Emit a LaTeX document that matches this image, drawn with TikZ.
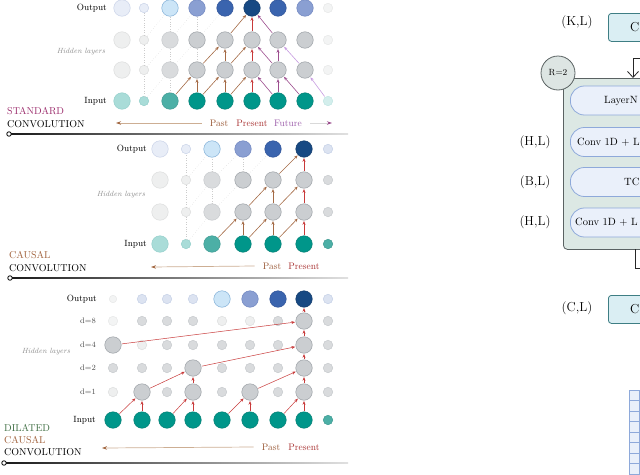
\documentclass[tikz,border=0pt]{standalone}
\usetikzlibrary{arrows.meta}
\definecolor{oVL}{HTML}{E8EDF7}\definecolor{oVLb}{HTML}{C9D3E8}
\definecolor{oL}{HTML}{CCE5F7}\definecolor{oLb}{HTML}{7FAED6}
\definecolor{oM}{HTML}{8A9FD2}\definecolor{oMb}{HTML}{6C83BF}
\definecolor{oB}{HTML}{3A64AE}\definecolor{oBb}{HTML}{2C5096}
\definecolor{oD}{HTML}{174983}\definecolor{oDb}{HTML}{0F3868}
\definecolor{oS}{HTML}{DCE3F1}\definecolor{oSb}{HTML}{C5D0E6}
\definecolor{gF}{HTML}{F3F4F4}\definecolor{gFb}{HTML}{E7E8E8}
\definecolor{gVL}{HTML}{EEEFEF}\definecolor{gVLb}{HTML}{DCDDDD}
\definecolor{gL}{HTML}{D9DBDD}\definecolor{gLb}{HTML}{C6C9CC}
\definecolor{gM}{HTML}{CBCED1}\definecolor{gMb}{HTML}{9A9FA4}
\definecolor{tL}{HTML}{A9DCD8}\definecolor{tLb}{HTML}{92CFCA}
\definecolor{tM}{HTML}{4CAFA6}\definecolor{tMb}{HTML}{3B9990}
\definecolor{tD}{HTML}{00968A}\definecolor{tDb}{HTML}{007D72}
\definecolor{tVL}{HTML}{D3EEEC}\definecolor{tVLb}{HTML}{C0E5E2}
\definecolor{pastc}{HTML}{A46A45}
\definecolor{presc}{HTML}{C83A3A}
\definecolor{futc}{HTML}{9C4D8E}
\definecolor{futl}{HTML}{C79BE0}
\definecolor{pastt}{HTML}{9A5A38}
\definecolor{prest}{HTML}{A83232}
\definecolor{futt}{HTML}{9A5AA8}
\definecolor{leftl}{HTML}{CDAE93}
\definecolor{stdc}{HTML}{9B2B6B}
\definecolor{causc}{HTML}{A0603A}
\definecolor{dilc}{HTML}{3F6E43}
\definecolor{boxf}{HTML}{DAEEF3}\definecolor{boxd}{HTML}{3E7E84}
\definecolor{contf}{HTML}{DCE8E4}\definecolor{contd}{HTML}{5A6262}
\definecolor{pillf}{HTML}{EAF0FA}\definecolor{pilld}{HTML}{8EA9DA}
\definecolor{rf}{HTML}{DDE5E3}
\begin{document}
\begin{tikzpicture}[x=1pt,y=-1pt,
  nd/.style={circle,inner sep=0pt,line width=0.5pt},
  bg/.style={nd,minimum size=16.5pt},
  sm/.style={nd,minimum size=9.5pt},
  xs/.style={nd,minimum size=7.5pt},
  cOVL/.style={fill=oVL,draw=oVLb},
  cOL/.style={fill=oL,draw=oLb},
  cOM/.style={fill=oM,draw=oMb},
  cOB/.style={fill=oB,draw=oBb},
  cOD/.style={fill=oD,draw=oDb},
  cOS/.style={fill=oS,draw=oSb},
  cGF/.style={fill=gF,draw=gFb},
  cGVL/.style={fill=gVL,draw=gVLb},
  cGL/.style={fill=gL,draw=gLb},
  cGM/.style={fill=gM,draw=gMb},
  cTL/.style={fill=tL,draw=tLb},
  cTM/.style={fill=tM,draw=tMb},
  cTD/.style={fill=tD,draw=tDb},
  cTVL/.style={fill=tVL,draw=tVLb},
  ar/.style={-{Stealth[length=3.6pt,width=3pt]},line width=0.6pt,shorten >=0.6pt,shorten <=0.6pt},
  past/.style={ar,draw=pastc,color=pastc},
  pres/.style={ar,draw=presc,color=presc},
  fut/.style={ar,draw=futc,color=futc},
  futlt/.style={ar,draw=futl,color=futl},
  dil/.style={ar,draw=presc,color=presc,line width=0.5pt},
  dots/.style={dotted,draw=gray!40,line width=0.4pt},
  lbl/.style={font=\fontsize{9}{10}\selectfont,inner sep=0pt},
  dlbl/.style={font=\fontsize{8}{9}\selectfont,inner sep=0pt,text=black!70},
  hid/.style={font=\fontsize{7.5}{8}\itshape,inner sep=0pt,text=black!45},
  ttl/.style={font=\fontsize{10}{11}\selectfont,inner sep=0pt,anchor=west},
  tim/.style={font=\fontsize{9.5}{10}\selectfont,inner sep=0pt},
  larr/.style={draw=leftl,line width=0.7pt,-{Stealth[length=5pt,width=3.5pt,color=pastc]}},
  rarr/.style={draw=gray!30,line width=0.7pt,-{Stealth[length=5pt,width=3.5pt,color=futc]}},
  rlbl/.style={font=\fontsize{13}{14}\selectfont,inner sep=0pt},
  ptxt/.style={font=\fontsize{10.5}{12}\selectfont,inner sep=0pt,anchor=west},
  kbox/.style={draw=boxd,fill=boxf,line width=0.8pt,rounded corners=3pt,minimum width=90pt,minimum height=28pt,anchor=north west,inner sep=0pt},
  cont/.style={draw=contd,fill=contf,line width=0.8pt,rounded corners=4pt,minimum width=150pt,minimum height=171pt,anchor=north west,inner sep=0pt},
  pill/.style={draw=pilld,fill=pillf,line width=0.8pt,rounded corners=14pt,minimum width=150pt,minimum height=29pt,anchor=west,inner sep=0pt},
  rcirc/.style={circle,draw=contd,fill=rf,line width=0.8pt,minimum size=34pt,inner sep=0pt,font=\fontsize{9}{10}\selectfont},
  wire/.style={draw=black!85,line width=0.8pt},
  sq/.style={draw=pilld,fill=pillf,line width=0.5pt}
]
\useasboundingbox (0,0) rectangle (640,474);
\clip (0,0) rectangle (640,474);

% ================= Panel 1: standard =================
\foreach \c/\x/\s/\k in {1/122/bg/cOVL,2/144/sm/cOVL,3/170/bg/cOL,4/197/bg/cOM,5/225/bg/cOB,6/252/bg/cOD,7/278/bg/cOB,8/305/bg/cOM,9/328/sm/cGF}
  \node[\s,\k] (A0-\c) at (\x,8) {};
\foreach \r/\y in {1/40,2/70}
  \foreach \c/\x/\s/\k in {1/122/bg/cGVL,2/144/sm/cGVL,3/170/bg/cGL,4/197/bg/cGM,5/225/bg/cGM,6/252/bg/cGM,7/278/bg/cGM,8/305/bg/cGM,9/328/sm/cGF}
    \node[\s,\k] (A\r-\c) at (\x,\y) {};
\foreach \c/\x/\s/\k in {1/122/bg/cTL,2/144/sm/cTL,3/170/bg/cTM,4/197/bg/cTD,5/225/bg/cTD,6/252/bg/cTD,7/278/bg/cTD,8/305/bg/cTD,9/328/sm/cTVL}
  \node[\s,\k] (A3-\c) at (\x,101) {};

\foreach \a/\b in {A3-2/A2-2,A2-2/A1-2,A1-2/A0-2,A3-3/A2-3,A2-3/A1-3,A1-3/A0-3,A2-4/A1-4,A1-4/A0-4,
  A3-2/A2-3,A2-2/A1-3,A1-2/A0-3,A2-3/A1-4,A1-3/A0-4,A1-4/A0-5}
  \draw[dots] (\a) -- (\b);

\foreach \a/\b/\st in {A1-5/A0-6/past,A1-6/A0-6/pres,A1-7/A0-6/fut,
  A2-4/A1-5/past,A2-5/A1-5/past,A2-5/A1-6/past,A2-6/A1-6/pres,A2-7/A1-6/fut,A2-7/A1-7/fut,A2-8/A1-7/futlt,
  A3-3/A2-4/past,A3-4/A2-4/past,A3-4/A2-5/past,A3-5/A2-5/past,A3-5/A2-6/past,A3-6/A2-6/pres,A3-7/A2-6/fut,
  A3-7/A2-7/fut,A3-8/A2-7/fut,A3-9/A2-8/futlt}
  \draw[\st] (\a) -- (\b);

\node[lbl,anchor=east] (Aout) at (107,8) {Output};
\node[hid] (Ahid) at (81,52) {Hidden layers};
\node[lbl,anchor=east] (Ain) at (107,101) {Input};
\node[ttl,text=stdc] (Astd) at (7,111) {STANDARD};
\node[ttl] (Aconv) at (7,124) {CONVOLUTION};
\node[tim,text=pastt] (Apast) at (219,123) {Past};
\node[tim,text=prest] (Apres) at (252,123) {Present};
\node[tim,text=futt] (Afut) at (288,123) {Future};
\coordinate (Aleft) at (116,123);
\coordinate (Aright) at (332,123);
\draw[larr] ([xshift=-8pt]Apast.west) -- (Aleft);
\draw[rarr] ([xshift=8pt]Afut.east) -- (Aright);
\shade[left color=black!90,right color=black!12] (9,133.2) rectangle (348,134.8);
\node[circle,draw=black,fill=white,line width=0.8pt,minimum size=4.5pt,inner sep=0pt] (Adot) at (9,134) {};

% ================= Panel 2: causal =================
\foreach \c/\x/\s/\k in {1/160/bg/cOVL,2/186/sm/cOVL,3/212/bg/cOL,4/243/bg/cOM,5/273/bg/cOB,6/304/bg/cOD,7/328/sm/cOS}
  \node[\s,\k] (B0-\c) at (\x,149) {};
\foreach \r/\y in {1/180,2/212}
  \foreach \c/\x/\s/\k in {1/160/bg/cGVL,2/186/sm/cGVL,3/212/bg/cGL,4/243/bg/cGM,5/273/bg/cGM,6/304/bg/cGM,7/328/sm/cGL}
    \node[\s,\k] (B\r-\c) at (\x,\y) {};
\foreach \c/\x/\s/\k in {1/160/bg/cTL,2/186/sm/cTL,3/212/bg/cTM,4/243/bg/cTD,5/273/bg/cTD,6/304/bg/cTD,7/328/sm/cTM}
  \node[\s,\k] (B3-\c) at (\x,244) {};

\foreach \a/\b in {B3-2/B2-2,B2-2/B1-2,B1-2/B0-2,B2-3/B1-3,B1-3/B0-3,B1-4/B0-4,
  B3-2/B2-3,B2-2/B1-3,B1-2/B0-3,B2-3/B1-4,B1-3/B0-4,B1-4/B0-5}
  \draw[dots] (\a) -- (\b);

\foreach \a/\b/\st in {B1-5/B0-6/past,B1-6/B0-6/pres,
  B2-4/B1-5/past,B2-5/B1-5/past,B2-5/B1-6/past,B2-6/B1-6/pres,
  B3-3/B2-4/past,B3-4/B2-4/past,B3-4/B2-5/past,B3-5/B2-5/past,B3-5/B2-6/past,B3-6/B2-6/pres}
  \draw[\st] (\a) -- (\b);

\node[lbl,anchor=east] (Bout) at (147,149) {Output};
\node[hid] (Bhid) at (121,195) {Hidden layers};
\node[lbl,anchor=east] (Bin) at (147,244) {Input};
\node[ttl,text=causc] (Bcaus) at (9,255) {CAUSAL};
\node[ttl] (Bconv) at (9,268) {CONVOLUTION};
\node[tim,text=pastt] (Bpast) at (272,266) {Past};
\node[tim,text=prest] (Bpres) at (304,266) {Present};
\coordinate (Bleft) at (151,267);
\draw[larr] ([xshift=-8pt]Bpast.west) -- (Bleft);
\shade[left color=black!90,right color=black!12] (10,277.2) rectangle (348,278.8);
\node[circle,draw=black,fill=white,line width=0.8pt,minimum size=4.5pt,inner sep=0pt] (Bdot) at (10,278) {};

% ================= Panel 3: dilated causal =================
\foreach \c/\x/\s/\k in {1/113/xs/cGF,2/142/sm/cOS,3/167/sm/cOS,4/193/sm/cOS,5/222/bg/cOL,6/250/bg/cOM,7/278/bg/cOB,8/304/bg/cOD,9/328/sm/cOS}
  \node[\s,\k] (C0-\c) at (\x,299) {};
\foreach \c/\x/\s/\k in {1/113/sm/cGF,2/142/sm/cGL,3/167/sm/cGL,4/193/sm/cGL,5/222/sm/cGVL,6/250/sm/cGVL,7/278/sm/cGL,8/304/bg/cGM,9/328/sm/cGL}
  \node[\s,\k] (C1-\c) at (\x,321) {};
\foreach \c/\x/\s/\k in {1/113/bg/cGM,2/142/sm/cGVL,3/167/sm/cGL,4/193/sm/cGL,5/222/sm/cGL,6/250/sm/cGL,7/278/sm/cGL,8/304/bg/cGM,9/328/sm/cGL}
  \node[\s,\k] (C2-\c) at (\x,345) {};
\foreach \c/\x/\s/\k in {1/113/sm/cGL,2/142/sm/cGL,3/167/sm/cGL,4/193/bg/cGM,5/222/sm/cGL,6/250/sm/cGL,7/278/sm/cGL,8/304/bg/cGM,9/328/sm/cGL}
  \node[\s,\k] (C3-\c) at (\x,368) {};
\foreach \c/\x/\s/\k in {1/113/sm/cGVL,2/142/bg/cGM,3/167/sm/cGL,4/193/bg/cGM,5/222/sm/cGL,6/250/bg/cGM,7/278/sm/cGL,8/304/bg/cGM,9/328/sm/cGL}
  \node[\s,\k] (C4-\c) at (\x,392) {};
\foreach \c/\x/\s/\k in {1/113/bg/cTD,2/142/bg/cTD,3/167/bg/cTD,4/193/bg/cTD,5/222/bg/cTD,6/250/bg/cTD,7/278/bg/cTD,8/304/bg/cTD,9/328/sm/cTM}
  \node[\s,\k] (C5-\c) at (\x,420) {};

\foreach \a/\b in {C5-1/C4-2,C5-2/C4-2,C5-3/C4-4,C5-4/C4-4,C5-5/C4-6,C5-6/C4-6,C5-7/C4-8,C5-8/C4-8,
  C4-2/C3-4,C4-4/C3-4,C4-6/C3-8,C4-8/C3-8,C3-4/C2-8,C3-8/C2-8,C2-1/C1-8,C2-8/C1-8,C1-8/C0-8}
  \draw[dil] (\a) -- (\b);

\node[lbl,anchor=east] (Cout) at (97,299) {Output};
\node[dlbl,anchor=east] (Cd8) at (96,321) {d=8};
\node[dlbl,anchor=east] (Cd4) at (96,345) {d=4};
\node[dlbl,anchor=east] (Cd2) at (96,368) {d=2};
\node[dlbl,anchor=east] (Cd1) at (96,392) {d=1};
\node[hid] (Chid) at (46,352) {Hidden layers};
\node[lbl,anchor=east] (Cin) at (96,420) {Input};
\node[ttl,text=dilc] (Cdil) at (4,428) {DILATED};
\node[ttl,text=causc] (Ccaus) at (4,440) {CAUSAL};
\node[ttl] (Cconv) at (4,452) {CONVOLUTION};
\node[tim,text=pastt] (Cpast) at (271,447) {Past};
\node[tim,text=prest] (Cpres) at (304,447) {Present};
\coordinate (Cleft) at (102,448);
\draw[larr] ([xshift=-8pt]Cpast.west) -- (Cleft);
\shade[left color=black!90,right color=black!12] (4,462.2) rectangle (348,463.8);
\node[circle,draw=black,fill=white,line width=0.8pt,minimum size=4.5pt,inner sep=0pt] (Cdot) at (4,463) {};

% ================= Right panel =================
\node[rlbl] (KL) at (577,22) {(K,L)};
\node[kbox] (KLbox) at (608,13) {};
\node[rlbl,anchor=east] (KLt) at (639.6,27) {C};

\node[cont] (cont) at (563,78) {};
\node[rcirc] (R) at (558,73) {R=2};

\node[pill] (p1) at (570,100.5) {};
\node[ptxt] (p1t) at (604,101) {LayerN};
\node[pill] (p2) at (570,142) {};
\node[ptxt] (p2t) at (577,142) {Conv 1D + L};
\node[pill] (p3) at (570,182) {};
\node[ptxt,anchor=east] (p3t) at (639.6,182) {TC};
\node[pill] (p4) at (570,222.5) {};
\node[ptxt] (p4t) at (575,222.5) {Conv 1D + L};

\node[rlbl] (HL1) at (535,142) {(H,L)};
\node[rlbl] (BL) at (535,182) {(B,L)};
\node[rlbl] (HL2) at (535,222) {(H,L)};

\coordinate (inR) at (650,58);
\coordinate (ctop) at (633,78);
\draw[wire,-{Straight Barb[length=6pt,width=11pt]}] (inR) -| (ctop);
\coordinate (cbot) at (635,249);
\coordinate (outR) at (650,268);
\draw[wire] (cbot) |- (outR);

\node[rlbl] (CL) at (577,308) {(C,L)};
\node[kbox] (CLbox) at (608,295) {};
\node[rlbl,anchor=east] (CLt) at (639.6,309) {C};

\foreach \i in {0,...,8}
  \draw[sq] (629.5,390+10.5*\i) rectangle (639,400.5+10.5*\i);
\end{tikzpicture}
\end{document}
